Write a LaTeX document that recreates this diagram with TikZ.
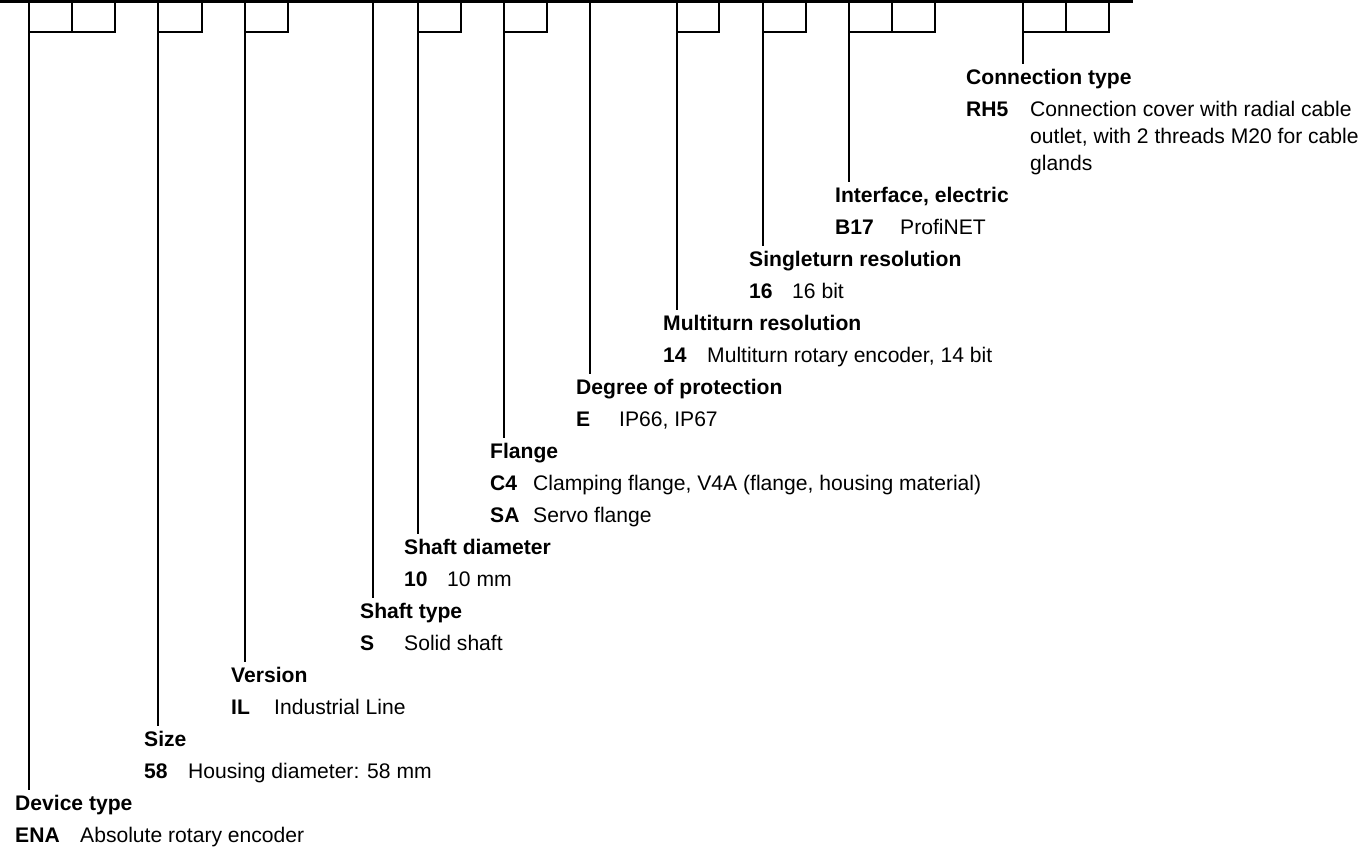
\documentclass[tikz,border=0pt]{standalone}
\usepackage{fontspec}
\setmainfont{Liberation Sans}
\newcommand\hdfont{\fontsize{21.1}{26}\selectfont\bfseries}
\newcommand\cdfont{\fontsize{21.1}{26}\selectfont\bfseries}
\newcommand\dsfont{\fontsize{21.1}{26}\selectfont}
\tikzset{
  hd/.style={font=\hdfont, anchor=base west, yshift=-5.5pt, inner sep=0pt, text height=15pt, text depth=4.5pt},
  cd/.style={font=\cdfont, anchor=base west, yshift=-5.5pt, inner sep=0pt},
  ds/.style={font=\dsfont, anchor=base west, yshift=-5.5pt, inner sep=0pt},
  ln/.style={line width=2pt},
  lead/.style={line width=2pt, shorten >=5.5pt},
  barline/.style={line width=2.7pt},
}
\begin{document}
\begin{tikzpicture}[x=1pt,y=-1pt]
\useasboundingbox (0,0) rectangle (1367,849);
% top bar
\coordinate (bar-l) at (0,1.35);
\coordinate (bar-r) at (1133,1.35);
\draw[barline] (bar-l) -- (bar-r);
% box cells
\draw[ln] (72,1) -- (72,32);
\draw[ln] (115,1) -- (115,32) -- (29,32);
\draw[ln] (202,1) -- (202,32) -- (158,32);
\draw[ln] (288,1) -- (288,32) -- (245,32);
\draw[ln] (461,1) -- (461,32) -- (418,32);
\draw[ln] (547,1) -- (547,32) -- (504,32);
\draw[ln] (719,1) -- (719,32) -- (677,32);
\draw[ln] (806,1) -- (806,32) -- (763,32);
\draw[ln] (892,1) -- (892,32);
\draw[ln] (935,1) -- (935,32) -- (849,32);
\draw[ln] (1066,1) -- (1066,32);
\draw[ln] (1109,1) -- (1109,32) -- (1023,32);
% top coordinates of leader lines
\coordinate (dev-t) at (29,1);
\coordinate (size-t) at (158,1);
\coordinate (ver-t) at (245,1);
\coordinate (st-t) at (373,1);
\coordinate (sd-t) at (418,1);
\coordinate (fl-t) at (504,1);
\coordinate (dp-t) at (590,1);
\coordinate (mt-t) at (677,1);
\coordinate (sr-t) at (763,1);
\coordinate (ie-t) at (849,1);
\coordinate (ct-t) at (1023,1);
% Device type
\node[hd] (dev-h) at (15,805) {Device type};
\node[cd] (dev-c) at (15,837) {ENA};
\node[ds] (dev-d) at (80,837) {Absolute rotary encoder};
% Size
\node[hd] (size-h) at (144,741) {Size};
\node[cd] (size-c) at (144,773) {58};
\node[ds] (size-d) at (188,773) {Housing diameter: 58 mm};
% Version
\node[hd] (ver-h) at (231,677) {Version};
\node[cd] (ver-c) at (231,709) {IL};
\node[ds] (ver-d) at (274,709) {Industrial Line};
% Shaft type
\node[hd] (st-h) at (360,613) {Shaft type};
\node[cd] (st-c) at (360,645) {S};
\node[ds] (st-d) at (404,645) {Solid shaft};
% Shaft diameter
\node[hd] (sd-h) at (404,549) {Shaft diameter};
\node[cd] (sd-c) at (404,581) {10};
\node[ds] (sd-d) at (447,581) {10 mm};
% Flange
\node[hd] (fl-h) at (490,453) {Flange};
\node[cd] (fl-c1) at (490,485) {C4};
\node[ds] (fl-d1) at (533,485) {Clamping flange, V4A (flange, housing material)};
\node[cd] (fl-c2) at (490,517) {SA};
\node[ds] (fl-d2) at (533,517) {Servo flange};
% Degree of protection
\node[hd] (dp-h) at (576,389) {Degree of protection};
\node[cd] (dp-c) at (576,421) {E};
\node[ds] (dp-d) at (619,421) {IP66, IP67};
% Multiturn resolution
\node[hd] (mt-h) at (663,325) {Multiturn resolution};
\node[cd] (mt-c) at (663,357) {14};
\node[ds] (mt-d) at (707,357) {Multiturn rotary encoder, 14 bit};
% Singleturn resolution
\node[hd] (sr-h) at (749,261) {Singleturn resolution};
\node[cd] (sr-c) at (749,293) {16};
\node[ds] (sr-d) at (792,293) {16 bit};
% Interface, electric
\node[hd] (ie-h) at (835,197) {Interface, electric};
\node[cd] (ie-c) at (835,229) {B17};
\node[ds] (ie-d) at (900,229) {ProfiNET};
% Connection type
\node[hd] (ct-h) at (966,79) {Connection type};
\node[cd] (ct-c) at (966,111) {RH5};
\node[ds] (ct-d1) at (1030,111) {Connection cover with radial cable};
\node[ds] (ct-d2) at (1030,138) {outlet, with 2 threads M20 for cable};
\node[ds] (ct-d3) at (1030,165) {glands};
% leader lines
\draw[lead] (dev-t) -- (dev-t |- dev-h.north);
\draw[lead] (size-t) -- (size-t |- size-h.north);
\draw[lead] (ver-t) -- (ver-t |- ver-h.north);
\draw[lead] (st-t) -- (st-t |- st-h.north);
\draw[lead] (sd-t) -- (sd-t |- sd-h.north);
\draw[lead] (fl-t) -- (fl-t |- fl-h.north);
\draw[lead] (dp-t) -- (dp-t |- dp-h.north);
\draw[lead] (mt-t) -- (mt-t |- mt-h.north);
\draw[lead] (sr-t) -- (sr-t |- sr-h.north);
\draw[lead] (ie-t) -- (ie-t |- ie-h.north);
\draw[lead] (ct-t) -- (ct-t |- ct-h.north);
\end{tikzpicture}
\end{document}
